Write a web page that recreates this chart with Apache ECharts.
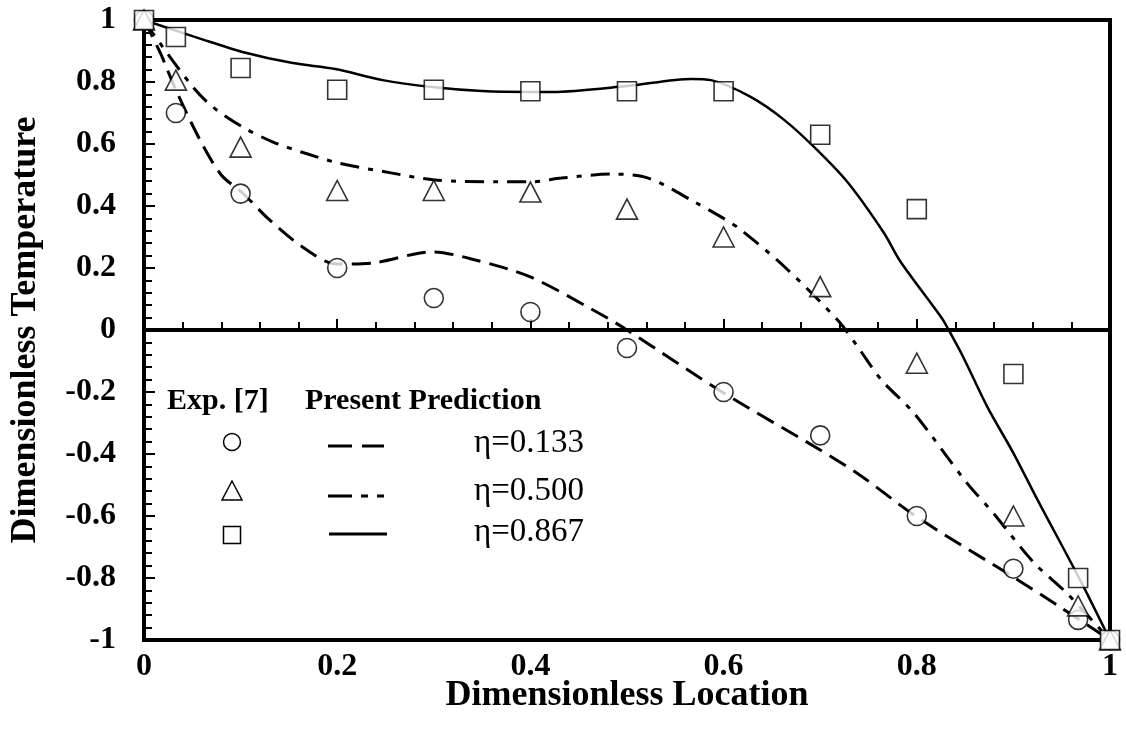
<!DOCTYPE html>
<html>
<head>
<meta charset="utf-8">
<script src="https://cdn.jsdelivr.net/npm/echarts@6/dist/echarts.min.js"></script>
<style>
html,body{margin:0;padding:0;background:#fff;}
#chart{width:1126px;height:747px;}
</style>
</head>
<body>
<div id="chart"></div>
<script>
// Experimental data (Exp. [7])
const expX = [0, 0.033, 0.1, 0.2, 0.3, 0.4, 0.5, 0.6, 0.7, 0.8, 0.9, 0.967, 1];
const exp133 = [1, 0.70, 0.44, 0.20, 0.103, 0.058, -0.058, -0.20, -0.34, -0.60, -0.77, -0.935, -1];
const exp500 = [1, 0.806, 0.59, 0.45, 0.45, 0.445, 0.39, 0.30, 0.14, -0.107, -0.60, -0.89, -1];
const exp867 = [1, 0.945, 0.845, 0.775, 0.775, 0.77, 0.77, 0.77, 0.63, 0.39, -0.142, -0.80, -1];

// Present prediction curves
const predX133 = [0, 0.017, 0.033, 0.058, 0.08, 0.102, 0.13, 0.164, 0.199, 0.236, 0.298, 0.343, 0.4, 0.463, 0.497, 0.6, 0.7, 0.742, 0.8, 0.9, 0.948, 1];
const predY133 = [1, 0.893, 0.774, 0.613, 0.50, 0.442, 0.355, 0.268, 0.213, 0.216, 0.252, 0.226, 0.171, 0.068, 0.006, -0.203, -0.387, -0.47, -0.603, -0.797, -0.893, -1];

const predX500 = [0, 0.009, 0.049, 0.071, 0.102, 0.133, 0.167, 0.202, 0.257, 0.301, 0.367, 0.401, 0.432, 0.484, 0.522, 0.57, 0.6, 0.618, 0.663, 0.718, 0.739, 0.763, 0.797, 0.852, 0.879, 0.921, 0.955, 1];
const predY500 = [1, 0.958, 0.79, 0.72, 0.655, 0.607, 0.57, 0.538, 0.506, 0.484, 0.478, 0.478, 0.49, 0.503, 0.49, 0.413, 0.36, 0.323, 0.204, 0.032, -0.055, -0.16, -0.268, -0.494, -0.59, -0.75, -0.848, -1];

const predX867 = [0, 0.058, 0.102, 0.154, 0.198, 0.247, 0.298, 0.35, 0.401, 0.422, 0.5, 0.567, 0.587, 0.628, 0.663, 0.697, 0.729, 0.766, 0.783, 0.826, 0.833, 0.848, 0.873, 0.9, 0.925, 0.969, 1];
const predY867 = [1, 0.94, 0.897, 0.861, 0.842, 0.806, 0.784, 0.771, 0.768, 0.768, 0.787, 0.81, 0.806, 0.752, 0.677, 0.58, 0.474, 0.313, 0.221, 0.038, 0, -0.087, -0.248, -0.397, -0.548, -0.806, -1];

const xTicks = ['0', '0.2', '0.4', '0.6', '0.8', '1'];
const yTicks = ['-1', '-0.8', '-0.6', '-0.4', '-0.2', '0', '0.2', '0.4', '0.6', '0.8', '1'];

const legendHeader = ['Exp. [7]', 'Present Prediction'];
const legendNames = ['\u03b7=0.133', '\u03b7=0.500', '\u03b7=0.867'];

const FONT = 'Liberation Serif';

function zip(xs, ys) { return xs.map((x, i) => [x, ys[i]]); }
function fmt(v) {
  const r = Math.round(v * 10) / 10;
  return String(r);
}

const chart = echarts.init(document.getElementById('chart'), null, {renderer: 'canvas'});

const markerStyle = {color: '#fff', borderColor: '#000', borderWidth: 1.6};

const option = {
  backgroundColor: '#fff',
  animation: false,
  grid: {left: 141, right: 16, top: 20, bottom: 107, show: true, borderColor: '#000', borderWidth: 4, backgroundColor: 'transparent'},
  xAxis: {
    type: 'value', min: 0, max: 1, interval: 0.2,
    name: 'Dimensionless Location', nameLocation: 'middle', nameGap: 38, nameMoveOverlap: false,
    nameTextStyle: {fontFamily: FONT, fontWeight: 'bold', fontSize: 36, color: '#000'},
    axisLine: {show: true, lineStyle: {color: '#000', width: 4}},
    axisTick: {show: true, inside: true, length: 11, lineStyle: {color: '#000', width: 2}},
    minorTick: {show: true, splitNumber: 5, length: 8, lineStyle: {color: '#000', width: 2}},
    splitLine: {show: false},
    axisLabel: {margin: 11, fontFamily: FONT, fontWeight: 'bold', fontSize: 32, color: '#000',
      formatter: v => xTicks.find(t => Math.abs(parseFloat(t) - v) < 1e-6) || fmt(v)}
  },
  yAxis: {
    type: 'value', min: -1, max: 1, interval: 0.2,
    name: 'Dimensionless Temperature', nameLocation: 'middle', nameGap: 100, nameRotate: 90, nameMoveOverlap: false,
    nameTextStyle: {fontFamily: FONT, fontWeight: 'bold', fontSize: 36, color: '#000'},
    axisLine: {show: true, lineStyle: {color: '#000', width: 4}},
    axisTick: {show: true, inside: true, length: 11, lineStyle: {color: '#000', width: 2}},
    minorTick: {show: true, splitNumber: 5, length: 8, lineStyle: {color: '#000', width: 2}},
    splitLine: {show: false},
    axisLabel: {margin: 28, fontFamily: FONT, fontWeight: 'bold', fontSize: 32, color: '#000',
      formatter: v => yTicks.find(t => Math.abs(parseFloat(t) - v) < 1e-6) || fmt(v)}
  },
  series: [
    {
      type: 'line', name: 'pred133', data: zip(predX133, predY133), smooth: 0.3, showSymbol: false, symbol: 'none',
      lineStyle: {color: '#000', width: 3, type: [19, 9]}, z: 2, silent: true,
      markLine: {silent: true, symbol: 'none', label: {show: false}, data: [{yAxis: 0}],
        lineStyle: {color: '#000', width: 2.5, type: 'solid'}}
    },
    {
      type: 'line', name: 'pred500', data: zip(predX500, predY500), smooth: 0.3, showSymbol: false, symbol: 'none',
      lineStyle: {color: '#000', width: 3, type: [19, 9, 5, 9]}, z: 2, silent: true
    },
    {
      type: 'line', name: 'pred867', data: zip(predX867, predY867), smooth: 0.3, showSymbol: false, symbol: 'none',
      lineStyle: {color: '#000', width: 2.5, type: 'solid'}, z: 2, silent: true
    },
    {
      type: 'scatter', name: 'exp133', data: zip(expX, exp133), symbol: 'circle', symbolSize: 19,
      itemStyle: markerStyle, z: 5, clip: false
    },
    {
      type: 'scatter', name: 'exp500', data: zip(expX, exp500), symbol: 'triangle', symbolSize: [21, 20],
      itemStyle: markerStyle, z: 5, clip: false
    },
    {
      type: 'scatter', name: 'exp867', data: zip(expX, exp867), symbol: 'rect', symbolSize: 19,
      itemStyle: markerStyle, z: 5, clip: false
    }
  ],
  graphic: [
    {type: 'text', left: 167, top: 386, style: {text: legendHeader[0], fontFamily: FONT, fontWeight: 'bold', fontSize: 30, fill: '#000'}},
    {type: 'text', left: 305, top: 386, style: {text: legendHeader[1], fontFamily: FONT, fontWeight: 'bold', fontSize: 30, fill: '#000'}},
    {type: 'circle', shape: {cx: 232, cy: 442, r: 8.5}, style: {fill: '#fff', stroke: '#000', lineWidth: 1.5}},
    {type: 'polygon', shape: {points: [[232, 481], [242, 500], [222, 500]]}, style: {fill: '#fff', stroke: '#000', lineWidth: 1.5}},
    {type: 'rect', shape: {x: 223.5, y: 526.5, width: 17, height: 17}, style: {fill: '#fff', stroke: '#000', lineWidth: 1.5}},
    {type: 'line', shape: {x1: 328, y1: 446, x2: 384, y2: 446}, style: {stroke: '#000', lineWidth: 3, lineDash: [24, 10]}},
    {type: 'line', shape: {x1: 328, y1: 496, x2: 387, y2: 496}, style: {stroke: '#000', lineWidth: 3, lineDash: [24, 9, 7, 9, 7, 100]}},
    {type: 'line', shape: {x1: 329, y1: 534, x2: 387, y2: 534}, style: {stroke: '#000', lineWidth: 3}},
    {type: 'text', left: 474, top: 427, style: {text: legendNames[0], fontFamily: FONT, fontSize: 33, fill: '#000'}},
    {type: 'text', left: 474, top: 475, style: {text: legendNames[1], fontFamily: FONT, fontSize: 33, fill: '#000'}},
    {type: 'text', left: 474, top: 516, style: {text: legendNames[2], fontFamily: FONT, fontSize: 33, fill: '#000'}}
  ]
};
chart.setOption(option);
</script>
</body>
</html>
